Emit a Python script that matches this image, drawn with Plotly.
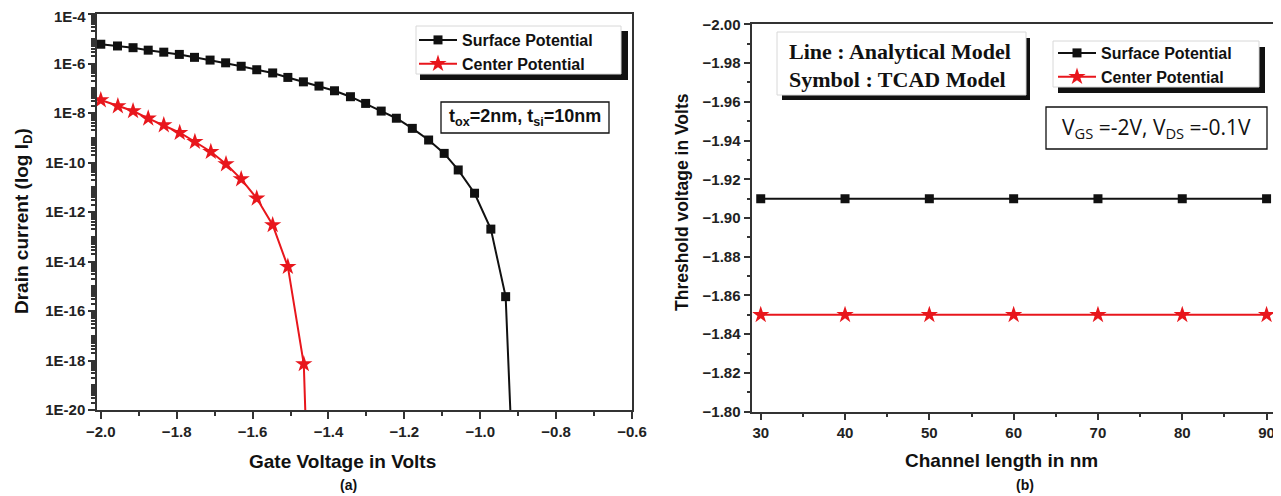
import plotly.graph_objects as go

# ---------------- Panel (a): drain current vs gate voltage ----------------
vg_surface = [-2.000, -1.956, -1.915, -1.875, -1.834, -1.793, -1.753, -1.712, -1.671,
              -1.630, -1.589, -1.547, -1.507, -1.466, -1.425, -1.384, -1.342, -1.302,
              -1.261, -1.221, -1.179, -1.136, -1.095, -1.058, -1.015, -0.972, -0.933,
              -0.918]
id_surface = [6.03e-6, 5.13e-6, 4.37e-6, 3.47e-6, 2.88e-6, 2.34e-6, 1.78e-6, 1.38e-6,
              1.07e-6, 7.76e-7, 5.62e-7, 4.17e-7, 2.75e-7, 1.82e-7, 1.23e-7, 7.94e-8,
              4.57e-8, 2.45e-8, 1.20e-8, 6.17e-9, 2.40e-9, 8.13e-10, 2.34e-10, 5.01e-11,
              5.75e-12, 2.04e-13, 3.80e-16, 1.0e-21]

vg_center = [-2.000, -1.955, -1.915, -1.875, -1.834, -1.792, -1.752, -1.710, -1.670,
             -1.630, -1.589, -1.547, -1.507, -1.465, -1.459]
id_center = [3.35e-8, 1.92e-8, 1.21e-8, 6.11e-9, 3.27e-9, 1.60e-9, 6.92e-10, 2.73e-10,
             8.69e-11, 2.15e-11, 3.57e-12, 2.99e-13, 6.17e-15, 7.23e-19, 1.0e-21]

log_tick_vals = [1e-4, 1e-6, 1e-8, 1e-10, 1e-12, 1e-14, 1e-16, 1e-18, 1e-20]
log_tick_text = ["1E-4", "1E-6", "1E-8", "1E-10", "1E-12", "1E-14", "1E-16", "1E-18", "1E-20"]

# ---------------- Panel (b): threshold voltage vs channel length ----------------
channel_length = [30, 40, 50, 60, 70, 80, 90]
vth_surface = [-1.91, -1.91, -1.91, -1.91, -1.91, -1.91, -1.91]
vth_center = [-1.85, -1.85, -1.85, -1.85, -1.85, -1.85, -1.85]

series_names = ["Surface Potential", "Center Potential"]

# ---------------- styling ----------------
# the page body has an 8px margin, so the figure is drawn 8px in from the window corner
OFF = 8
W, H = 1281 - OFF, 496 - OFF
BLACK = "#111111"
RED = "#e8161c"
AX = "#333333"
SANS = "Liberation Sans, Arial, sans-serif"
SERIF = "Liberation Serif, Times New Roman, serif"


def px(x):
    return (x - OFF) / W


def py(y):
    return 1 - (y - OFF) / H


fig = go.Figure()

fig.add_trace(go.Scatter(x=vg_surface, y=id_surface, mode="lines+markers", name=series_names[0],
                         line=dict(color=BLACK, width=2),
                         marker=dict(symbol="square", size=9, color=BLACK),
                         xaxis="x", yaxis="y", legend="legend"))
fig.add_trace(go.Scatter(x=vg_center, y=id_center, mode="lines+markers", name=series_names[1],
                         line=dict(color=RED, width=2),
                         marker=dict(symbol="star", size=13, color=RED),
                         xaxis="x", yaxis="y", legend="legend"))
fig.add_trace(go.Scatter(x=channel_length, y=vth_surface, mode="lines+markers", name=series_names[0],
                         line=dict(color=BLACK, width=2),
                         marker=dict(symbol="square", size=9, color=BLACK),
                         xaxis="x2", yaxis="y2", legend="legend2"))
fig.add_trace(go.Scatter(x=channel_length, y=vth_center, mode="lines+markers", name=series_names[1],
                         line=dict(color=RED, width=2),
                         marker=dict(symbol="star", size=13, color=RED),
                         xaxis="x2", yaxis="y2", legend="legend2"))

tickfont = dict(family=SANS, size=15, color="#222222", weight="bold")
common = dict(showline=True, linecolor=AX, linewidth=1.5, showgrid=False, zeroline=False,
              ticks="outside", ticklen=7, tickwidth=1.5, tickcolor=AX, tickfont=tickfont,
              automargin=False, ticklabeloverflow="allow")
overlay = dict(range=[0, 1], tickmode="linear", tick0=0, dtick=0.1, ticks="inside",
               ticklen=5, tickwidth=1.2, tickcolor=AX, showticklabels=False,
               showline=False, showgrid=False, zeroline=False, fixedrange=True,
               automargin=False)
legfont = dict(family=SANS, size=16, color="#111111", weight="bold")

# the top label sits at the page edge; it is drawn as an annotation nudged inside the page
axis_tick_text = [""] + log_tick_text[1:]

fig.update_layout(
    template="none",
    width=W, height=H,
    margin=dict(l=0, r=0, t=0, b=0, pad=0, autoexpand=False),
    paper_bgcolor="white", plot_bgcolor="white",
    xaxis=dict(domain=[px(97), px(632)], anchor="y", range=[-2.01, -0.6],
               tick0=-2.0, dtick=0.2, tickformat=".1f", mirror=True,
               minor=dict(dtick=0.1, ticks="outside", ticklen=4, tickcolor=AX), **common),
    yaxis=dict(domain=[py(410), py(14)], anchor="x", type="log", range=[-20, -3.998],
               tickmode="array", tickvals=log_tick_vals, ticktext=axis_tick_text, mirror=True,
               minor=dict(dtick="D1", ticks="outside", ticklen=4, tickcolor=AX), **common),
    xaxis2=dict(domain=[px(752.3), px(1275)], anchor="y2", range=[29, 91],
                tick0=30, dtick=10, mirror=True,
                minor=dict(dtick=5, ticks="outside", ticklen=4, tickcolor=AX), **common),
    yaxis2=dict(domain=[py(411.7), py(24.3)], anchor="x2", range=[-1.80, -2.00],
                tick0=-2.0, dtick=0.02, tickformat=".2f", mirror=True,
                minor=dict(dtick=0.01, ticks="outside", ticklen=4, tickcolor=AX), **common),
    xaxis3=dict(overlaying="x", anchor="y", side="top", **overlay),
    yaxis3=dict(overlaying="y", anchor="x", side="right", **overlay),
    xaxis4=dict(overlaying="x2", anchor="y2", side="top", **overlay),
    yaxis4=dict(overlaying="y2", anchor="x2", side="right", **overlay),
    legend=dict(x=px(414), y=py(23), xanchor="left", yanchor="top",
                bgcolor="rgba(0,0,0,0)", borderwidth=0, itemwidth=38,
                font=legfont, tracegroupgap=0),
    legend2=dict(x=px(1053), y=py(36), xanchor="left", yanchor="top",
                 bgcolor="rgba(0,0,0,0)", borderwidth=0, itemwidth=38,
                 font=legfont, tracegroupgap=0),
)

shapes = []


def rect(x0, y0, x1, y1, fill, line_color=None, lw=0):
    shapes.append(dict(type="rect", xref="paper", yref="paper",
                       x0=px(x0), x1=px(x1), y0=py(y1), y1=py(y0),
                       fillcolor=fill, line=dict(color=line_color or fill, width=lw),
                       layer="above"))


# left legend box with shadow
rect(420, 31, 628, 80, BLACK)
rect(416, 26, 621, 74, "white", "#d8d8d8", 1)
# t_ox box
rect(441, 102, 609, 133, "white", BLACK, 1.3)
# right "Line / Symbol" box with shadow
rect(782, 38, 1030, 100, BLACK)
rect(777, 32, 1026, 95, "white", "#d8d8d8", 1)
# right legend box with shadow
rect(1058, 47, 1265, 93, BLACK)
rect(1053, 41, 1259, 87, "white", "#d8d8d8", 1)
# V_GS box
rect(1046, 107, 1267, 149, "white", BLACK, 1.3)

fig.update_layout(shapes=shapes)

ann = []


def text(x, y, s, size, family=SANS, weight="bold", angle=0, xanchor="center", color="#111111"):
    ann.append(dict(x=px(x), y=py(y), xref="paper", yref="paper", text=s, showarrow=False,
                    xanchor=xanchor, yanchor="middle", textangle=angle,
                    font=dict(family=family, size=size, weight=weight, color=color)))


text(88, 16, log_tick_text[0], 15, xanchor="right", color="#222222")
text(525, 117, "t<sub>ox</sub>=2nm, t<sub>si</sub>=10nm", 18)
text(787, 52, "Line : Analytical Model", 22, family=SERIF, xanchor="left")
text(787, 80, "Symbol : TCAD Model", 22, family=SERIF, xanchor="left")
text(1156, 128, "V<sub>GS</sub> =-2V, V<sub>DS</sub> =-0.1V", 21, family="Open Sans, sans-serif",
     weight="normal")
text(342, 461, "Gate Voltage in Volts", 19)
text(348, 485, "(a)", 14)
text(23, 221, "Drain current (log I<sub>D</sub>)", 19, angle=-90)
text(1001, 460, "Channel length in nm", 19)
text(1025, 485, "(b)", 14)
text(682, 202, "Threshold voltage in Volts", 17.5, angle=-90)

fig.update_layout(annotations=ann)

fig.write_html("out.html")
